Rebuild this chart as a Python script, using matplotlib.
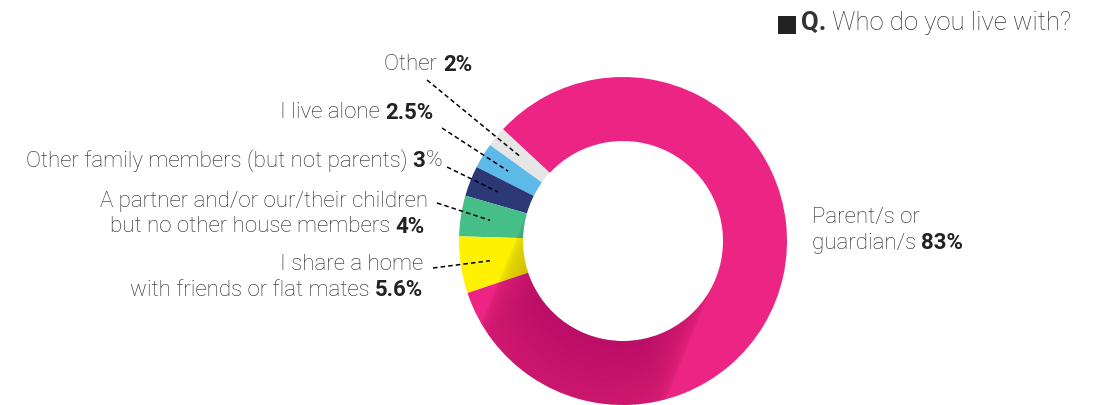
import numpy as np
import matplotlib.pyplot as plt
from matplotlib.patches import Circle, Wedge, Rectangle

plt.rcParams['font.family'] = ['Roboto', 'DejaVu Sans']

# data
labels = ['Other', 'I live alone', 'Other family members (but not parents)',
          'A partner and/or our/their children but no other house members',
          'I share a home with friends or flat mates', 'Parent/s or guardian/s']
values = [2, 2.5, 3, 4, 5.6, 83]
colors = ['#E6E6E6', '#5DB9E7', '#2C3775', '#45BE88', '#FFF200', '#EC2585']

W, H = 1100, 405
fig = plt.figure(figsize=(11, 4.05), dpi=100)
ax = fig.add_axes([0, 0, 1, 1])

cx, cy = 623, H - 241
R, r_in = 164, 100

wedges, _ = ax.pie(values, colors=colors, startangle=137, counterclock=True,
                   radius=R, center=(cx, cy), frame=True,
                   wedgeprops=dict(width=R - r_in, linewidth=0))
ax.set_xlim(0, W)
ax.set_ylim(0, H)
ax.axis('off')

# soft cast shadow on the ring (inner hole swept toward lower left)
ring = Wedge((cx, cy), R, 0, 360, width=R - r_in, transform=ax.transData)
d = np.array([-0.38, -0.925])
for t in np.linspace(0, 170, 24):
    c = Circle((cx + d[0] * t, cy + d[1] * t), r_in, color='#3a0020',
               alpha=0.011, lw=0, zorder=3)
    ax.add_patch(c)
    c.set_clip_path(ring)

fig.canvas.draw()
rend = fig.canvas.get_renderer()
FS = 16


def rich(x, y, parts, ha='right', fs=FS, color='#222222'):
    # parts: list of (text, bold); laid out on one line at pixel coords
    seq = parts[::-1] if ha == 'right' else parts
    pos = x
    for txt, bold in seq:
        t = ax.text(pos, H - y, txt, fontsize=fs, ha=ha, va='center',
                    fontweight='bold' if bold else 'light', color=color)
        bb = t.get_window_extent(renderer=rend)
        pos = pos - bb.width if ha == 'right' else pos + bb.width


rich(472, 65, [('Other ', False), ('2%', True)])
rich(433, 113, [('I live alone ', False), ('2.5%', True)])
rich(442, 161, [('Other family members (but not parents) ', False), ('3', True), ('%', False)])
rich(428, 202, [('A partner and/or our/their children', False)])
rich(425, 227, [('but no other house members ', False), ('4%', True)])
rich(423, 265, [('I share a home', False)])
rich(423, 290, [('with friends or flat mates ', False), ('5.6%', True)])
rich(812, 218, [('Parent/s or', False)], ha='left')
rich(812, 243, [('guardian/s ', False), ('83%', True)], ha='left')

# title
ax.add_patch(Rectangle((778, H - 34), 18, 18, color='#222222', lw=0))
rich(801, 23, [('Q.', True), (' Who do you live with?', False)], ha='left',
     fs=18.5, color='#333333')

# leader lines from label to wedge
starts = [(427, 80), (442, 128), (447, 167), (437, 203), (433, 268)]
for w, (sx, sy) in zip(wedges[:5], starts):
    a = np.deg2rad((w.theta1 + w.theta2) / 2)
    ex = cx + 0.82 * R * np.cos(a)
    ey = cy + 0.82 * R * np.sin(a)
    ax.plot([sx, ex], [H - sy, ey], ls=(0, (3, 2)), color='black', lw=1.1,
            zorder=5)

fig.savefig('out.png', dpi=100)
